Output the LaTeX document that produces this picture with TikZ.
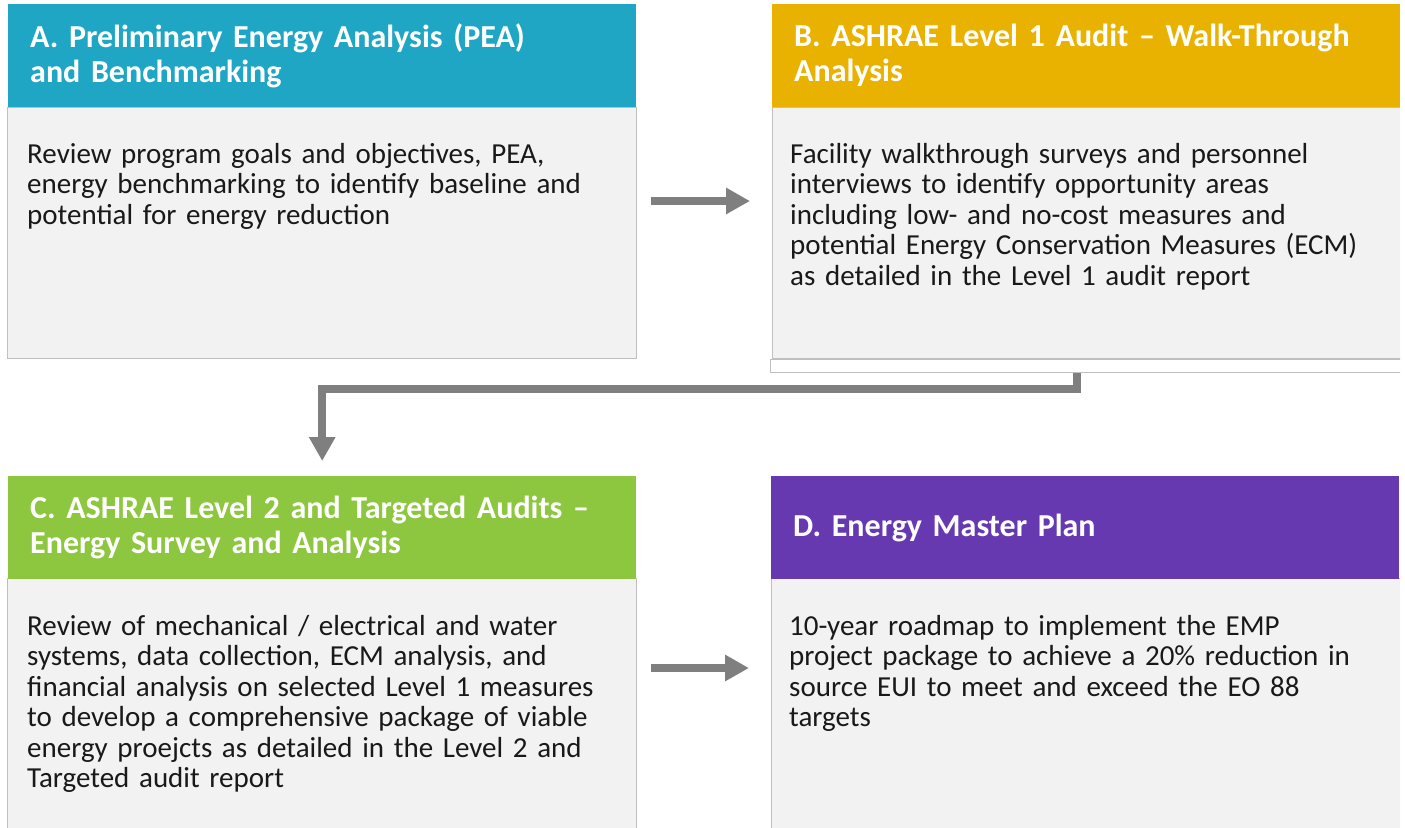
\documentclass[tikz,border=0pt]{standalone}
\usepackage{fontspec}
\setmainfont{Carlito}
\usetikzlibrary{arrows.meta}

% header and panel colours
\definecolor{peaBlue}{RGB}{31,166,196}
\definecolor{walkGold}{RGB}{233,178,0}
\definecolor{surveyGreen}{RGB}{141,198,63}
\definecolor{planPurple}{RGB}{103,57,176}
\definecolor{bodyGray}{RGB}{242,242,242}
\definecolor{edgeGray}{RGB}{191,191,191}
\definecolor{arrowGray}{RGB}{127,127,127}

\begin{document}
\begin{tikzpicture}
	[x=1pt,y=-1pt,
	hdrbox/.style={anchor=north west,minimum width=628pt,minimum height=103pt,inner xsep=22pt,text width=584pt,align=left,text=white,font=\fontsize{32}{35}\selectfont\bfseries},
	bodybox/.style={anchor=north west,draw=edgeGray,fill=bodyGray,line width=1.2pt,minimum width=629pt,inner sep=0pt},
	stripbox/.style={anchor=north west,draw=edgeGray,fill=white,line width=1.2pt,minimum width=640pt,minimum height=13pt,inner sep=0pt},
	bodytext/.style={anchor=base west,inner sep=0pt,text width=640pt,align=left,text=black!90,font=\fontsize{29}{30.5}\selectfont},
	flowarrow/.style={draw=arrowGray,line width=8pt,-{Triangle[length=24pt,width=25pt]}},]
	\useasboundingbox[fill=white] (0,0) rectangle (1405,827);
	\begin{scope}
		\clip (0,0) rectangle (1400,827);
		% panels first, headers on top
		\node[bodybox,minimum height=251pt] (bodyA) at (7,107) {};
		\node[stripbox] (stripB) at (770,359) {};
		\node[bodybox,minimum width=640pt,minimum height=251pt] (bodyB) at (772,107) {};
		\node[bodybox,minimum height=262pt] (bodyC) at (7,578) {};
		\node[bodybox,minimum width=640pt,minimum height=262pt] (bodyD) at (771,578) {};
		\node[hdrbox,fill=peaBlue] (hdrA) at (8,4)
		{A. Preliminary Energy Analysis (PEA)\\and Benchmarking};
		\node[hdrbox,fill=walkGold] (hdrB) at (772,4)
		{B. ASHRAE Level 1 Audit -- Walk-Through\\Analysis};
		\node[hdrbox,fill=surveyGreen] (hdrC) at (8,476)
		{C. ASHRAE Level 2 and Targeted Audits --\\Energy Survey and Analysis};
		\node[hdrbox,fill=planPurple] (hdrD) at (771,476)
		{D. Energy Master Plan};
		% panel texts
		\node[bodytext] (txtA) at ([xshift=20pt,yshift=-56pt]bodyA.north west)
		{Review program goals and objectives, PEA,\\
			energy benchmarking to identify baseline and\\
			potential for energy reduction};
		\node[bodytext] (txtB) at ([xshift=18pt,yshift=-56pt]bodyB.north west)
		{Facility walkthrough surveys and personnel\\
			interviews to identify opportunity areas\\
			including low- and no-cost measures and\\
			potential Energy Conservation Measures (ECM)\\
			as detailed in the Level 1 audit report};
		\node[bodytext] (txtC) at ([xshift=20pt,yshift=-57pt]bodyC.north west)
		{Review of mechanical / electrical and water\\
			systems, data collection, ECM analysis, and\\
			financial analysis on selected Level 1 measures\\
			to develop a comprehensive package of viable\\
			energy proejcts as detailed in the Level 2 and\\
			Targeted audit report};
		\node[bodytext] (txtD) at ([xshift=18pt,yshift=-57pt]bodyD.north west)
		{10-year roadmap to implement the EMP\\
			project package to achieve a 20\% reduction in\\
			source EUI to meet and exceed the EO 88\\
			targets};
	\end{scope}
	% arrows between the steps
	\coordinate (rowAB) at (0,201);
	\coordinate (rowCD) at (0,668);
	\coordinate (bendB) at (1077,389);
	\draw[flowarrow,shorten <=14pt,shorten >=22pt] (bodyA.east |- rowAB) -- (bodyB.west |- rowAB);
	\draw[flowarrow,shorten <=14pt,shorten >=22pt] (bodyC.east |- rowCD) -- (bodyD.west |- rowCD);
	\draw[flowarrow,shorten >=15pt] (stripB.south -| bendB) -- (bendB) -| (hdrC.north);
\end{tikzpicture}
\end{document}
